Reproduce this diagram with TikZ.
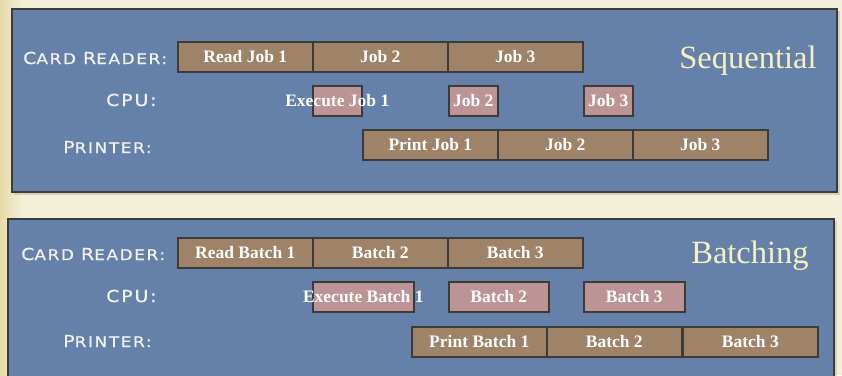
\documentclass[tikz,border=0pt]{standalone}
\usepackage{fontspec}
\setmainfont{Liberation Serif}
\newfontfamily\lblfont[FakeStretch=1.15,LetterSpace=11,FakeBold=0.6]{DejaVu Sans}
\definecolor{bgcream}{HTML}{F4EFD8}
\definecolor{bgedge}{HTML}{E6DAA8}
\definecolor{panelblue}{HTML}{6681A9}
\definecolor{bord}{HTML}{3C3B38}
\definecolor{brownbar}{HTML}{9F8369}
\definecolor{pinkbar}{HTML}{BC9495}
\definecolor{lblwhite}{HTML}{F2F2F2}
\definecolor{titleyellow}{HTML}{F6F1C2}
\newcommand\Bc[1]{{\fontsize{16.5}{18}\selectfont #1}}
\begin{document}
\begin{tikzpicture}[x=1pt,y=-1pt,
  panel/.style={draw=bord,line width=2pt,fill=panelblue},
  bartext/.style={text=white,font=\fontsize{17.5}{18}\selectfont\bfseries,inner sep=0pt},
  bar/.style={draw=bord,line width=1.6pt,fill=brownbar,bartext,minimum height=30pt,
    minimum width=135pt,anchor=north west},
  cpubar/.style={draw=bord,line width=1.6pt,fill=pinkbar,minimum height=30pt,
    inner sep=0pt,anchor=north west},
  lbl/.style={font=\lblfont\fontsize{14.7}{16}\selectfont,text=lblwhite,
    inner sep=0pt,anchor=base west},
  ttl/.style={font=\fontsize{32.5}{34}\selectfont,text=titleyellow,
    inner sep=0pt,anchor=base}]
\useasboundingbox (0,0) rectangle (842,375);
\clip (0,0) rectangle (842,375);
% background
\fill[bgcream] (0,0) rectangle (842,375);
\shade[left color=bgedge,right color=bgcream] (0,0) rectangle (22,375);
% panels
\fill[black,opacity=0.12] (14,11) rectangle (840,195);
\draw[panel] (12,9) rectangle (837,192);
\fill[black,opacity=0.12] (10,221) rectangle (837,380);
\draw[panel] (8,219) rectangle (834,380);
% ---------- Sequential ----------
\node[lbl] (l1) at (23,64) {\Bc{C}ARD \Bc{R}EADER:};
\node[lbl] (l2) at (106,106) {\Bc{CPU:}};
\node[lbl] (l3) at (63,153) {\Bc{P}RINTER:};
\node[ttl] (t1) at (748,68) {Sequential};
\node[bar] (r1) at (177,41) {Read Job 1};
\node[bar] (r2) at (312,41) {Job 2};
\node[bar] (r3) at (447,41) {Job 3};
\node[cpubar,minimum width=49pt,label={[bartext]center:Execute Job 1}] (c1) at (312,85) {};
\node[cpubar,minimum width=49pt,label={[bartext]center:Job 2}] (c2) at (448,85) {};
\node[cpubar,minimum width=49pt,label={[bartext]center:Job 3}] (c3) at (583,85) {};
\node[bar] (p1) at (362,129) {Print Job 1};
\node[bar] (p2) at (497,129) {Job 2};
\node[bar] (p3) at (632,129) {Job 3};
% ---------- Batching ----------
\node[lbl] (m1) at (21,260) {\Bc{C}ARD \Bc{R}EADER:};
\node[lbl] (m2) at (106,302) {\Bc{CPU:}};
\node[lbl] (m3) at (63,347) {\Bc{P}RINTER:};
\node[ttl] (t2) at (750,263) {Batching};
\node[bar] (br1) at (177,237) {Read Batch 1};
\node[bar] (br2) at (312,237) {Batch 2};
\node[bar] (br3) at (447,237) {Batch 3};
\node[cpubar,minimum width=101pt,label={[bartext]center:Execute Batch 1}] (bc1) at (312,281) {};
\node[cpubar,minimum width=100pt,label={[bartext]center:Batch 2}] (bc2) at (448,281) {};
\node[cpubar,minimum width=101pt,label={[bartext]center:Batch 3}] (bc3) at (583,281) {};
\node[bar] (bp1) at (411,326) {Print Batch 1};
\node[bar] (bp2) at (546,326) {Batch 2};
\node[bar] (bp3) at (682,326) {Batch 3};
\end{tikzpicture}
\end{document}
